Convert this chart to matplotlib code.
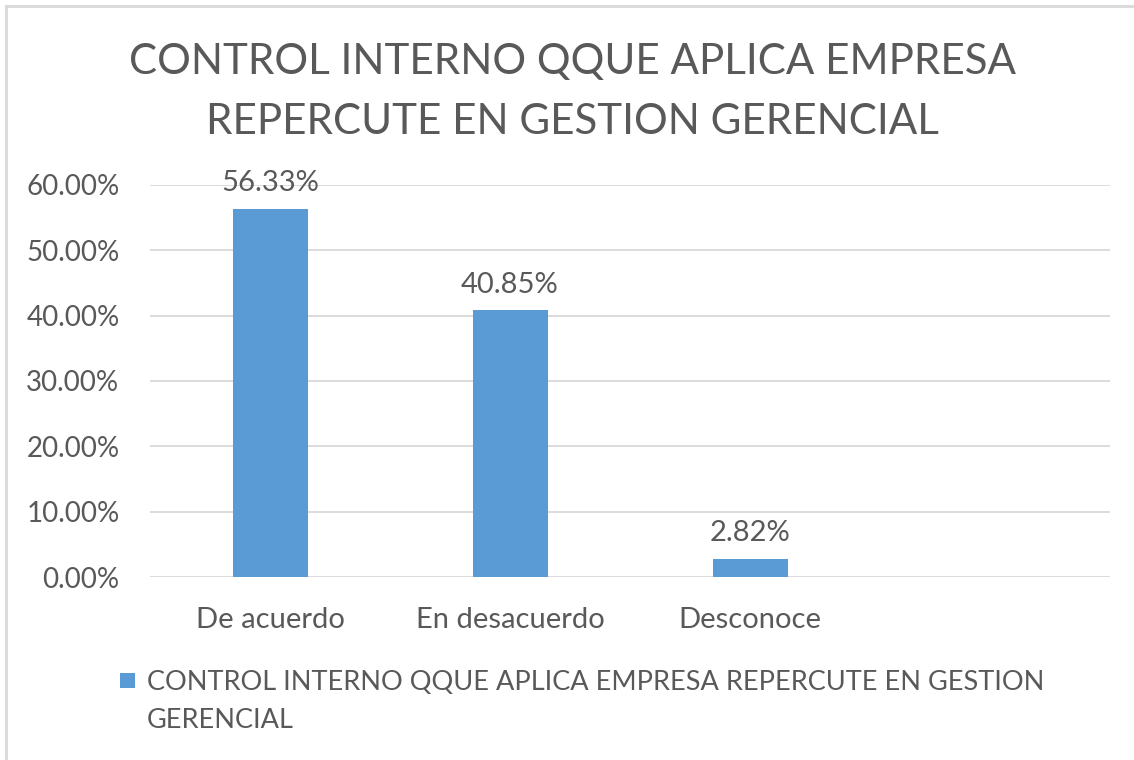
import matplotlib
matplotlib.use("Agg")
import matplotlib.pyplot as plt
from matplotlib.patches import Rectangle
from matplotlib.lines import Line2D
from matplotlib.ticker import FuncFormatter

plt.rcParams['font.family'] = ['Lato', 'DejaVu Sans']

# datos
categorias = ["De acuerdo", "En desacuerdo", "Desconoce"]
valores = [0.5633, 0.4085, 0.0282]
serie = "CONTROL INTERNO QQUE APLICA EMPRESA REPERCUTE EN GESTION GERENCIAL"
titulo = "CONTROL INTERNO QQUE APLICA EMPRESA\nREPERCUTE EN GESTION GERENCIAL"
n_slots = 4  # el eje deja sitio para una cuarta categoria vacia

AZUL = "#5B9BD5"
GRIS_TXT = "#595959"
GRIS_LIN = "#D9D9D9"

fig = plt.figure(figsize=(11.34, 7.6), dpi=100)
ax = fig.add_axes([150 / 1134, 1 - 577 / 760, 960 / 1134, 392 / 760])

x = list(range(len(categorias)))
barras = ax.bar(x, valores, width=0.3125, color=AZUL, zorder=3)

ax.set_xlim(-0.5, n_slots - 0.5)
ax.set_ylim(0, 0.6)
ax.set_yticks([i / 10 for i in range(7)])
ax.yaxis.set_major_formatter(FuncFormatter(lambda v, _: f"{v * 100:.2f}%"))
ax.set_xticks(x)
ax.set_xticklabels(categorias)
ax.grid(axis="y", color=GRIS_LIN, linewidth=1.3, zorder=0)
for s in ax.spines.values():
    s.set_visible(False)
ax.tick_params(length=0, colors=GRIS_TXT)
ax.tick_params(axis="y", pad=22, labelsize=20)
ax.tick_params(axis="x", pad=21.5, labelsize=21)

for b, v in zip(barras, valores):
    ax.annotate(f"{v * 100:.2f}%", (b.get_x() + b.get_width() / 2, v),
                xytext=(0, 9), textcoords="offset points",
                ha="center", va="bottom", fontsize=21, color=GRIS_TXT)

fig.text(0.505, 1 - 92 / 760, titulo, ha="center", va="center",
         fontsize=30.3, color=GRIS_TXT, linespacing=1.73)

# leyenda dibujada a mano para alinear el cuadro con la primera linea
fig.patches.append(Rectangle((120 / 1134, 1 - 688 / 760), 15 / 1134, 15 / 760,
                             transform=fig.transFigure, facecolor=AZUL,
                             edgecolor="none"))
fig.text(147 / 1134, 1 - 701 / 760,
         "CONTROL INTERNO QQUE APLICA EMPRESA REPERCUTE EN GESTION\nGERENCIAL",
         ha="left", va="center", fontsize=19.5, color=GRIS_TXT, linespacing=1.65)

# borde del grafico
fig.lines.append(Line2D([6 / 1134, 6 / 1134], [0, 1 - 6 / 760],
                        transform=fig.transFigure, color=GRIS_LIN, linewidth=2))
fig.lines.append(Line2D([6 / 1134, 1], [1 - 6 / 760, 1 - 6 / 760],
                        transform=fig.transFigure, color=GRIS_LIN, linewidth=2))

fig.savefig("out.png", dpi=100, facecolor="white")
